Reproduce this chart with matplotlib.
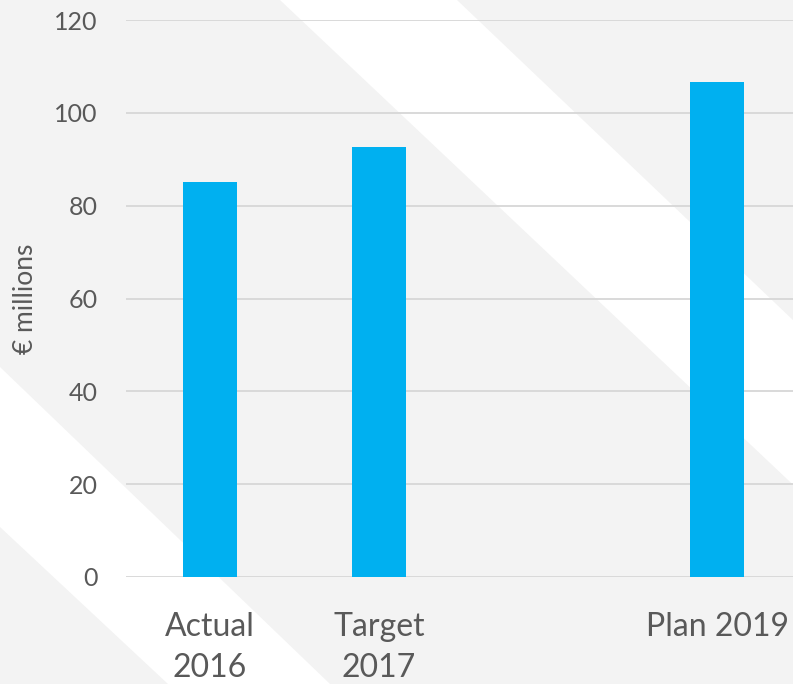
import numpy as np
import matplotlib
matplotlib.use("Agg")
import matplotlib.pyplot as plt
from matplotlib.patches import Polygon

# chart data
categories = ["Actual\n2016", "Target\n2017", "", "Plan 2019"]
values = [85.1, 92.6, np.nan, 106.7]
y_ticks = [0, 20, 40, 60, 80, 100, 120]
y_label = "€ millions"

W, H = 793, 684
plt.rcParams['font.family'] = ['Lato', 'DejaVu Sans']

def px_poly(points):
    # convert pixel coords (origin top-left) to figure fraction
    return [(x / W, 1 - y / H) for x, y in points]

def add_background_stripes(fig):
    # white diagonal bands of the slide background
    band_a = [(280, 0), (457, 0), (1175, 684), (1004, 684)]
    band_b = [(0, 367), (330, 684), (168, 684), (0, 527)]
    for band in (band_a, band_b):
        fig.patches.append(Polygon(px_poly(band), closed=True, transform=fig.transFigure,
                                   facecolor='white', edgecolor='none', zorder=-5))

fig = plt.figure(figsize=(W / 100, H / 100), dpi=100, facecolor='#f3f3f3')
add_background_stripes(fig)

ax = fig.add_axes([125.5 / W, 1 - 577 / H, 676 / W, 557 / H])
ax.set_facecolor('none')
ax.set_zorder(1)

x = np.arange(len(categories))
ax.bar(x, values, width=0.314, color='#00b0f0', zorder=3)

ax.set_xlim(-0.5, len(categories) - 0.5)
ax.set_ylim(0, 120)
ax.set_yticks(y_ticks)
ax.set_xticks(x)
ax.set_xticklabels(categories, linespacing=1.45)
ax.yaxis.grid(True, color='#d9d9d9', linewidth=1.4)
ax.set_axisbelow(True)
for s in ax.spines.values():
    s.set_visible(False)

ax.tick_params(axis='y', length=0, pad=20, labelsize=18, labelcolor='#595959')
ax.tick_params(axis='x', length=0, pad=25, labelsize=23, labelcolor='#595959')
ax.set_ylabel(y_label, fontsize=19, color='#595959', labelpad=12)

fig.savefig("out.png", dpi=100, facecolor=fig.get_facecolor())
